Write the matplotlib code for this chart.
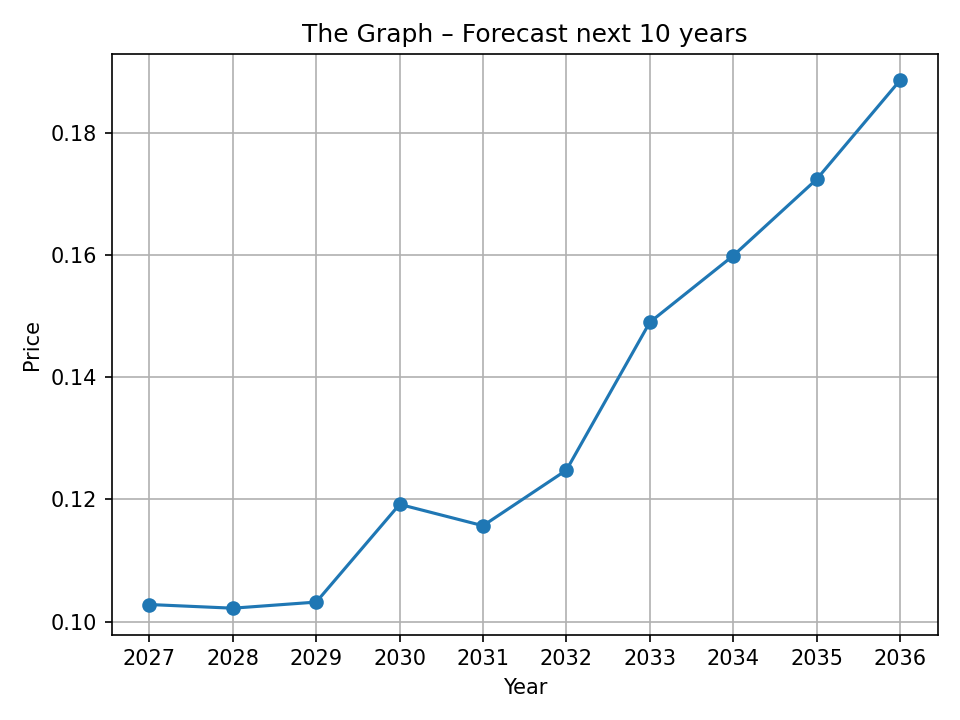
import matplotlib
matplotlib.use("Agg")
import matplotlib.pyplot as plt

# Forecast data
years = [2027, 2028, 2029, 2030, 2031, 2032, 2033, 2034, 2035, 2036]
prices = [0.1028, 0.1022, 0.1032, 0.1192, 0.1157, 0.1248, 0.1490, 0.1599, 0.1724, 0.1886]

fig, ax = plt.subplots(figsize=(6.4, 4.8), dpi=150)
ax.plot(years, prices, marker="o")
ax.set_xticks(years)
ax.set_xlabel("Year")
ax.set_ylabel("Price")
ax.set_title("The Graph \u2013 Forecast next 10 years")
ax.grid(True)

plt.tight_layout()
plt.savefig("out.png", dpi=150)
